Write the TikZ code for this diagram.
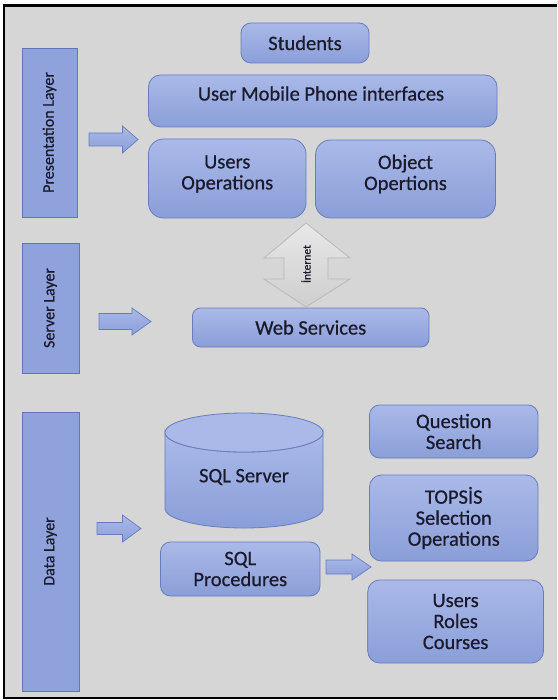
\documentclass[tikz,border=0pt]{standalone}
\usepackage{fontspec}
\usepackage{graphicx}
\setmainfont[FakeBold=0.6]{Carlito}
\definecolor{bgpanel}{RGB}{214,214,214}
\definecolor{boxtop}{RGB}{170,185,232}
\definecolor{boxbot}{RGB}{138,158,216}
\definecolor{boxline}{RGB}{104,124,188}
\definecolor{layerfill}{RGB}{143,162,220}
\definecolor{layerline}{RGB}{96,118,186}
\definecolor{inktext}{RGB}{26,26,44}
\definecolor{nettop}{RGB}{232,232,232}
\definecolor{netbot}{RGB}{206,206,206}
\definecolor{netline}{RGB}{184,184,184}
\tikzset{
  box/.style={draw=boxline, top color=boxtop, bottom color=boxbot,
    line width=0.8pt, rounded corners=10pt, inner sep=0pt,
    align=center, text=inktext, font=\fontsize{20.5}{21}\selectfont},
  boxtext/.style={inner sep=0pt, align=center, text=inktext,
    font=\fontsize{20.5}{21}\selectfont},
  layerbar/.style={draw=layerline, fill=layerfill, line width=0.8pt,
    inner sep=0pt, text=inktext, font=\fontsize{16}{18}\selectfont},
  blockarrow/.style={draw=boxline, top color=boxtop, bottom color=boxbot,
    line width=0.7pt, line join=miter},
  netarrow/.style={draw=netline, top color=nettop, bottom color=netbot,
    line width=0.8pt, line join=miter}
}
\begin{document}
\begin{tikzpicture}[x=1pt,y=-1pt]
\useasboundingbox (0,0) rectangle (557,700);
% panel
\fill[bgpanel] (4,5.5) rectangle (557,698);
\draw[line width=2.5pt] (557,5.5) -- (4,5.5) -- (4,698) -- (557,698);

% layer bars
\node[layerbar, minimum width=55pt, minimum height=169pt] (pres) at (49.5,132.5)
  {\rotatebox{90}{Presentation Layer}};
\node[layerbar, minimum width=57pt, minimum height=130pt] (serv) at (50.5,308)
  {\rotatebox{90}{Server Layer}};
\node[layerbar, minimum width=57pt, minimum height=279pt] (data) at (50.5,551.5)
  {\rotatebox{90}{Data Layer}};

% presentation layer
\node[box, minimum width=128pt, minimum height=40pt] (students) at (305,43) {Students};
\node[box, rounded corners=12pt, minimum width=348.5pt, minimum height=52pt] (umpi) at (322.75,101) {};
\node[boxtext] (umpiT) at (321,93.5) {User Mobile Phone interfaces};
\node[box, rounded corners=15pt, minimum width=157.5pt, minimum height=79pt] (uops) at (227.25,178.5) {};
\node[boxtext] (uopsT) at (227.25,174) {Users\\Operations};
\node[box, rounded corners=15pt, minimum width=180pt, minimum height=78pt] (oops) at (405.5,179) {};
\node[boxtext] (oopsT) at (405.5,174) {Object\\Opertions};

% server layer
\node[box, rounded corners=8pt, minimum width=236.5pt, minimum height=39pt] (web) at (310.75,327.5) {Web Services};

% internet double arrow
\draw[netarrow] (306,223) -- (350,258) -- (328,258) -- (328,279) -- (350,279)
  -- (306,307) -- (264,279) -- (284,279) -- (284,258) -- (264,258) -- cycle;
\node[inner sep=0pt, text=inktext, font=\fontsize{11.5}{13}\selectfont] (net) at (306,264)
  {\rotatebox{90}{İnternet}};

% data layer: database cylinder
\path[draw=boxline, top color=boxtop, bottom color=boxbot, line width=0.8pt]
  (165,432.5) -- (165,508.5)
  arc[start angle=180, end angle=0, x radius=79, y radius=19.5]
  -- (323,432.5)
  arc[start angle=0, end angle=180, x radius=79, y radius=19.5] -- cycle;
\path[draw=boxline, fill=boxtop, line width=0.8pt]
  (244,432.5) ellipse[x radius=79, y radius=19.5];
\node[boxtext] (sqlsrv) at (244,477) {SQL Server};

\node[box, rounded corners=10pt, minimum width=159.5pt, minimum height=54pt] (proc) at (240.25,569) {SQL\\Procedures};
\node[box, minimum width=168.5pt, minimum height=53pt] (qs) at (453.75,431.5) {Question\\Search};
\node[box, rounded corners=12pt, minimum width=168.5pt, minimum height=86pt] (tops) at (453.75,518) {TOPSİS\\Selection\\Operations};
\node[box, rounded corners=12pt, minimum width=175.8pt, minimum height=83pt] (urc) at (455.6,621.5) {Users\\Roles\\Courses};

% block arrows
\draw[blockarrow] (89,133) -- (122.5,133) -- (122.5,126) -- (138,139.5) -- (122.5,153)
  -- (122.5,146) -- (89,146) -- cycle;
\draw[blockarrow] (99,313.5) -- (132,313.5) -- (132,308) -- (151,321.5) -- (132,335)
  -- (132,329.5) -- (99,329.5) -- cycle;
\draw[blockarrow] (97,522.5) -- (122.5,522.5) -- (122.5,515) -- (141,528.5) -- (122.5,542)
  -- (122.5,534.5) -- (97,534.5) -- cycle;
\draw[blockarrow] (326,560) -- (352,560) -- (352,554) -- (371,567) -- (352,580)
  -- (352,574) -- (326,574) -- cycle;
\end{tikzpicture}
\end{document}
